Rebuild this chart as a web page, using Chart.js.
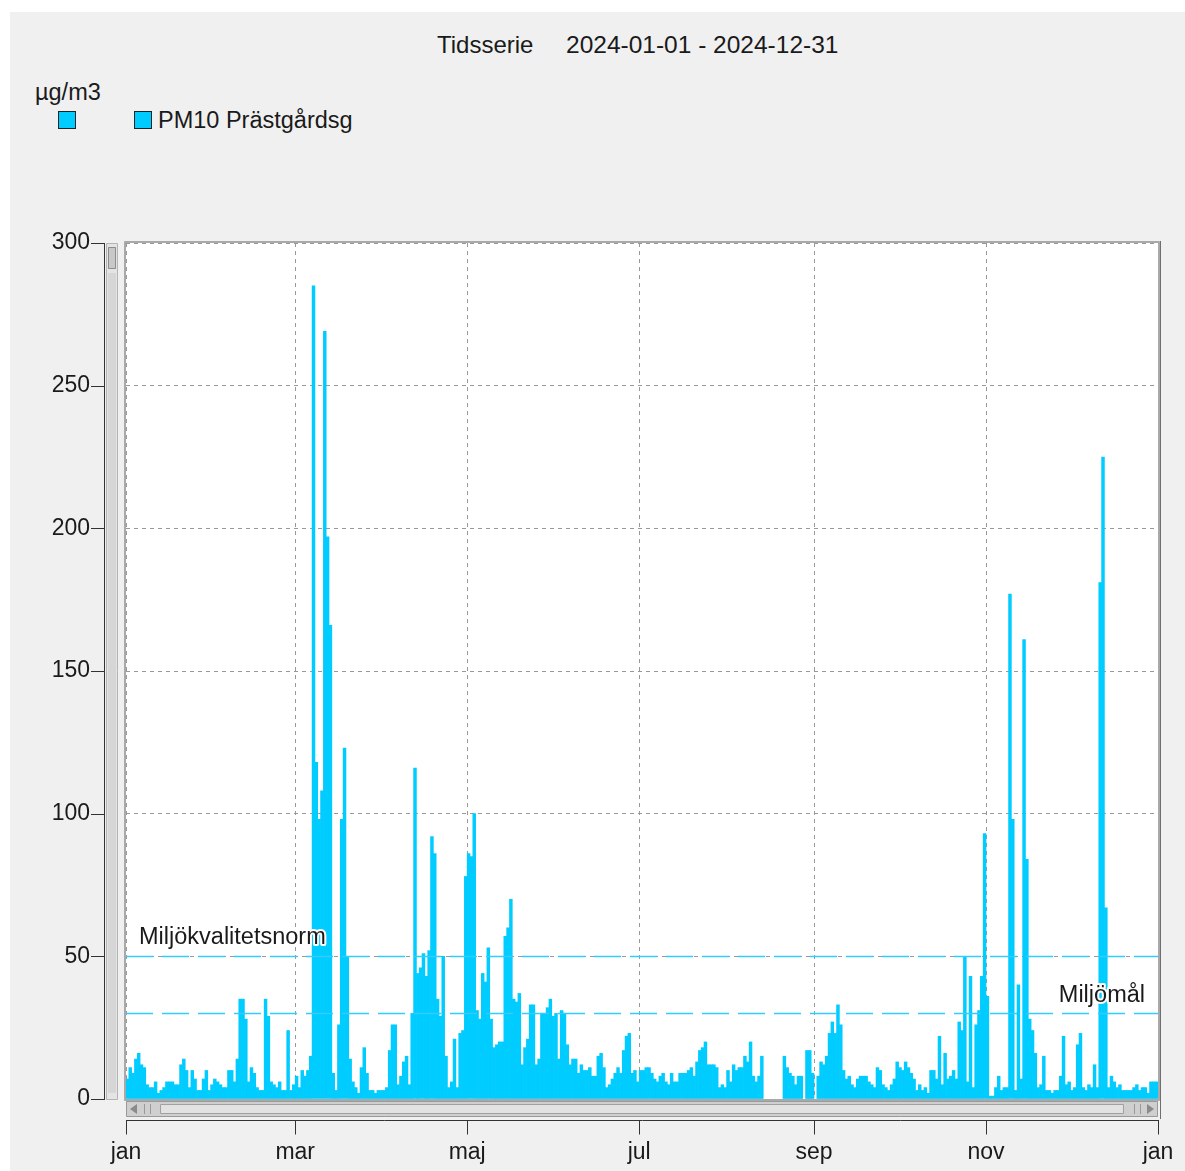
<!DOCTYPE html>
<html>
<head>
<meta charset="utf-8">
<script src="https://cdn.jsdelivr.net/npm/chart.js@4.4.1/dist/chart.umd.min.js"></script>
<style>
body { margin: 0; background: #fff; font-family: "Liberation Sans", Arial, sans-serif; }
#wrap { position: relative; width: 1185px; height: 1171px; overflow: hidden; }
#panel { position: absolute; left: 10px; top: 12px; width: 1175px; height: 1159px; background: #f0f0f0; }
#c { position: absolute; left: 0; top: 0; }
.txt { position: absolute; font-size: 23.5px; color: #1a1a1a; white-space: pre; line-height: 26px; }
.sw { position: absolute; width: 16px; height: 16px; background: #00ccff; border: 1px solid #222; }
</style>
</head>
<body>
<div id="wrap">
  <div id="panel"></div>
  <div class="txt" style="left:437px;top:32px;font-size:24px">Tidsserie</div>
  <div class="txt" style="left:566px;top:32px;font-size:24.5px">2024-01-01 - 2024-12-31</div>
  <div class="txt" style="left:35px;top:79px">µg/m3</div>
  <div class="sw" style="left:58px;top:111px"></div>
  <div class="sw" style="left:134px;top:111px"></div>
  <div class="txt" style="left:158px;top:107px">PM10 Prästgårdsg</div>
  <canvas id="c" width="1185" height="1171"></canvas>
</div>
<script>
// daily PM10, µg/m3, 2024 (null = no data)
const jan = [7,11,9,14,16,12,11,5,4,4,6,2,3,4,6,6,6,5,5,12,14,10,4,10,7,3,3,7,10,3,5];
const feb = [7,6,5,4,4,10,10,6,14,35,35,28,6,11,9,4,3,3,35,29,6,5,4,6,3,3,24,3,5];
const mar = [8,4,10,8,10,15,285,118,98,108,269,197,166,9,3,26,98,123,50,14,6,4,2,11,18,9,3,3,2,3,3];
const apr = [3,4,17,26,26,5,8,13,15,5,30,116,44,46,51,43,52,92,86,35,29,50,15,4,6,21,4,23,24,78];
const may = [86,85,100,31,28,44,41,53,28,18,19,20,20,57,60,70,35,34,37,12,18,21,33,33,12,14,30,30,32,35,29];
const jun = [30,14,31,30,19,12,14,14,9,12,10,10,11,8,8,15,16,11,4,5,7,9,11,9,17,22,23,9,10,6];
const jul = [10,10,11,11,9,7,6,8,9,6,5,9,6,6,9,9,9,10,11,8,13,17,18,20,12,12,12,11,4,5,4];
const aug = [10,6,12,10,11,11,15,13,20,8,6,8,15,null,null,null,null,null,null,null,15,11,9,8,5,8,8,null,17,17,9];
const sep = [null,8,13,12,15,23,27,23,33,26,10,7,8,5,4,7,8,8,8,6,5,4,11,10,5,4,3,5,7,13];
const oct = [11,10,13,11,9,7,3,5,3,4,2,10,10,7,22,5,16,7,8,10,7,27,24,50,6,43,4,26,31,43,93];
const nov = [36,1,1,4,8,3,4,4,177,98,3,40,7,161,84,28,24,16,4,5,15,3,3,2,3,3,8,22,5,6];
const dec = [3,4,19,23,4,3,5,4,12,4,181,225,67,4,8,6,4,5,3,3,3,3,4,5,3,4,4,2,6,6,6];

const tickDays = [0, 60, 121, 182, 244, 305, 366];
const tickLabels = ['jan', 'mar', 'maj', 'jul', 'sep', 'nov', 'jan'];
const limitValues = [50, 30];
const limitLabels = ['Miljökvalitetsnorm', 'Miljömål'];

const days = [].concat(jan, feb, mar, apr, may, jun, jul, aug, sep, oct, nov, dec);
const points = days.map((v, i) => ({ x: i + 0.5, y: v }));

const font = { family: '"Liberation Sans", Arial, sans-serif', size: 23 };
const ink = '#1a1a1a';

const deco = {
  id: 'deco',
  beforeDraw(chart) {
    const { ctx, chartArea: a } = chart;
    ctx.save();
    ctx.fillStyle = '#fff';
    ctx.fillRect(a.left, a.top, a.right - a.left, a.bottom - a.top);
    ctx.restore();
  },
  afterDatasetsDraw(chart) {
    const { ctx, chartArea: a, scales: { x, y } } = chart;
    ctx.save();
    // limit lines
    ctx.strokeStyle = '#33ccff';
    ctx.lineWidth = 1.5;
    ctx.setLineDash([27, 9]);
    limitValues.forEach(v => {
      const py = Math.round(y.getPixelForValue(v)) + 0.5;
      ctx.beginPath();
      ctx.moveTo(a.left, py);
      ctx.lineTo(a.right, py);
      ctx.stroke();
    });
    ctx.setLineDash([]);
    // limit labels
    ctx.font = '23.5px "Liberation Sans", Arial, sans-serif';
    ctx.textBaseline = 'middle';
    ctx.lineJoin = 'round';
    const drawLabel = (t, px, py, align) => {
      ctx.textAlign = align;
      ctx.strokeStyle = '#fff';
      ctx.lineWidth = 4;
      ctx.strokeText(t, px, py);
      ctx.fillStyle = ink;
      ctx.fillText(t, px, py);
    };
    drawLabel(limitLabels[0], a.left + 13, y.getPixelForValue(limitValues[0]) - 19, 'left');
    drawLabel(limitLabels[1], a.right - 13, y.getPixelForValue(limitValues[1]) - 18, 'right');

    // plot frame
    ctx.strokeStyle = '#a9a9a9';
    ctx.lineWidth = 2;
    ctx.strokeRect(a.left - 1, a.top - 1, a.right - a.left + 2, a.bottom - a.top + 2);
    ctx.strokeStyle = '#6e6e6e';
    ctx.lineWidth = 1;
    ctx.beginPath();
    ctx.moveTo(a.right + 2.5, a.top - 2);
    ctx.lineTo(a.right + 2.5, a.bottom + 20);
    ctx.stroke();

    // vertical scrollbar
    ctx.fillStyle = '#e4e4e4';
    ctx.fillRect(106, a.top, 12, a.bottom - a.top);
    ctx.strokeStyle = '#b4b4b4';
    ctx.strokeRect(106.5, a.top + 0.5, 11, a.bottom - a.top);
    ctx.fillStyle = '#c8c8c8';
    ctx.fillRect(108, a.top + 4, 8, 22);
    ctx.strokeStyle = '#8c8c8c';
    ctx.strokeRect(108.5, a.top + 4.5, 7, 21);
    ctx.fillStyle = '#d6d6d6';
    ctx.fillRect(108, a.top + 30, 8, a.bottom - a.top - 36);

    // horizontal scrollbar
    const sy = a.bottom + 2;
    ctx.fillStyle = '#cfcfcf';
    ctx.fillRect(a.left, sy, a.right - a.left, 16);
    ctx.strokeStyle = '#9a9a9a';
    ctx.strokeRect(a.left + 0.5, sy + 0.5, a.right - a.left - 1, 15);
    ctx.fillStyle = '#e2e2e2';
    ctx.fillRect(a.left + 34, sy + 3, a.right - a.left - 68, 10);
    ctx.strokeStyle = '#a0a0a0';
    ctx.strokeRect(a.left + 34.5, sy + 3.5, a.right - a.left - 69, 9);
    ctx.fillStyle = '#8a8a8a';
    ctx.beginPath();
    ctx.moveTo(a.left + 4, sy + 8); ctx.lineTo(a.left + 11, sy + 3); ctx.lineTo(a.left + 11, sy + 13); ctx.closePath(); ctx.fill();
    ctx.beginPath();
    ctx.moveTo(a.right - 4, sy + 8); ctx.lineTo(a.right - 11, sy + 3); ctx.lineTo(a.right - 11, sy + 13); ctx.closePath(); ctx.fill();
    [a.left + 18, a.left + 24, a.right - 18, a.right - 24].forEach(px => {
      ctx.strokeStyle = '#9a9a9a';
      ctx.beginPath(); ctx.moveTo(px + 0.5, sy + 3); ctx.lineTo(px + 0.5, sy + 13); ctx.stroke();
    });

    // y axis line and ticks
    ctx.strokeStyle = '#333';
    ctx.lineWidth = 1;
    ctx.beginPath();
    ctx.moveTo(104.5, y.getPixelForValue(300));
    ctx.lineTo(104.5, y.getPixelForValue(0) + 1);
    ctx.stroke();
    y.ticks.forEach(t => {
      const py = Math.round(y.getPixelForValue(t.value)) + 0.5;
      ctx.beginPath(); ctx.moveTo(91, py); ctx.lineTo(105, py); ctx.stroke();
    });

    // x axis line and ticks
    const ay = a.bottom + 21.5;
    ctx.beginPath();
    ctx.moveTo(x.getPixelForValue(0), ay);
    ctx.lineTo(x.getPixelForValue(366) + 1, ay);
    ctx.stroke();
    tickDays.forEach(d => {
      const px = Math.round(x.getPixelForValue(d)) + 0.5;
      ctx.beginPath(); ctx.moveTo(px, ay); ctx.lineTo(px, ay + 14); ctx.stroke();
    });
    ctx.restore();
  }
};

new Chart(document.getElementById('c'), {
  type: 'bar',
  data: {
    datasets: [{
      label: 'PM10 Prästgårdsg',
      data: points,
      backgroundColor: '#00ccff',
      borderWidth: 0,
      barPercentage: 1,
      categoryPercentage: 1
    }]
  },
  options: {
    responsive: false,
    animation: false,
    layout: { padding: { left: 10, top: 243, right: 27, bottom: 0 } },
    plugins: { legend: { display: false }, tooltip: { enabled: false } },
    scales: {
      x: {
        type: 'linear',
        offset: false,
        min: 0,
        max: 366,
        afterBuildTicks: s => { s.ticks = tickDays.map(v => ({ value: v })); },
        afterFit: s => { s.height = 72; s.paddingLeft = 0; s.paddingRight = 0; },
        ticks: {
          autoSkip: false,
          maxRotation: 0,
          padding: 40,
          font: font,
          color: ink,
          callback: (v, i) => tickLabels[i]
        },
        grid: { offset: false, drawTicks: false, color: '#999', lineWidth: 1 },
        border: { display: false, dash: [4, 4] }
      },
      y: {
        min: 0,
        max: 300,
        afterFit: s => { s.width = 116; s.paddingTop = 0; s.paddingBottom = 0; },
        ticks: { stepSize: 50, padding: 36, font: font, color: ink },
        grid: { drawTicks: false, color: '#999', lineWidth: 1 },
        border: { display: false, dash: [4, 4] }
      }
    }
  },
  plugins: [deco]
});
</script>
</body>
</html>
